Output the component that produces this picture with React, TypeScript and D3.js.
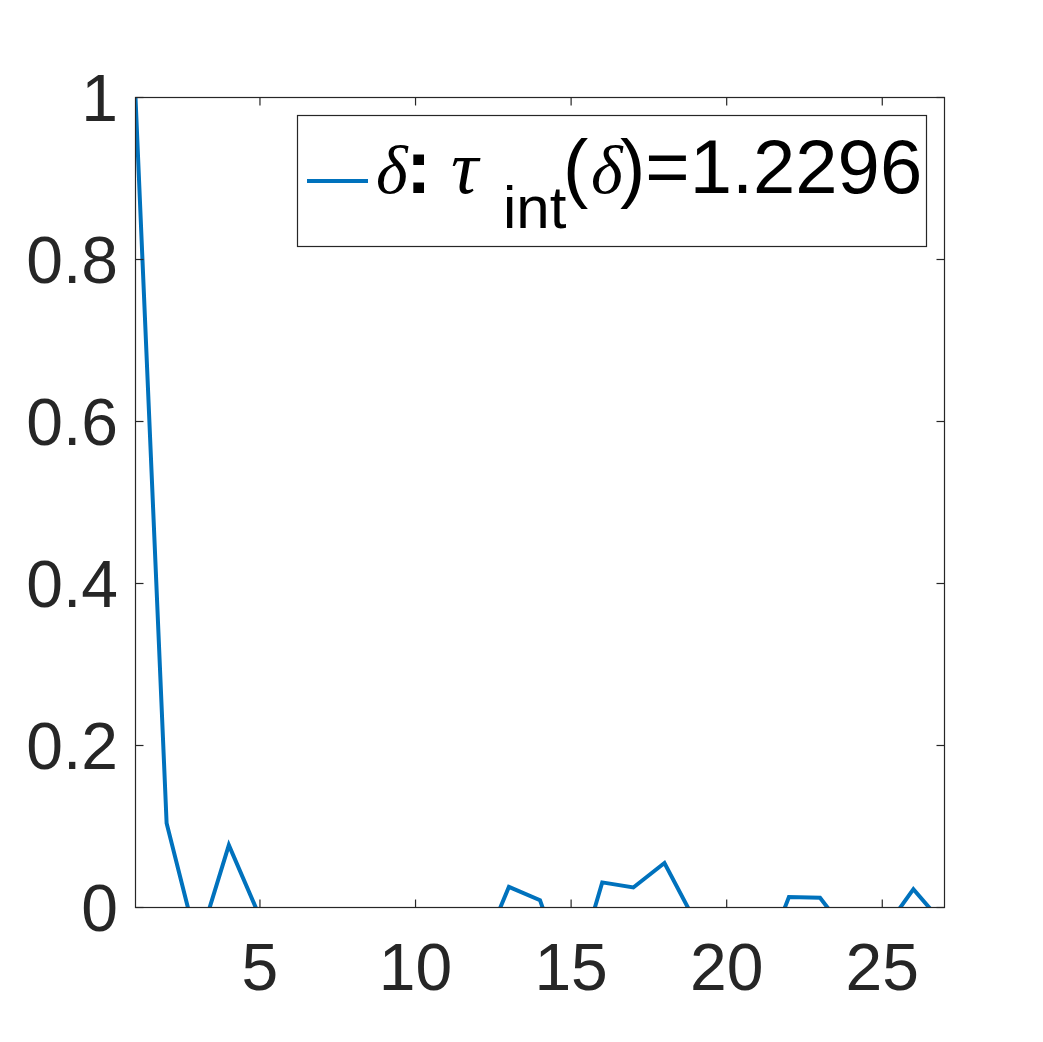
import React from "react";
import * as d3 from "d3";

const lags = [1,2,3,4,5,6,7,8,9,10,11,12,13,14,15,16,17,18,19,20,21,22,23,24,25,26,27];
const acf = [1,0.104,-0.048,0.077,-0.012,-0.035,-0.05,-0.025,-0.04,-0.06,-0.03,-0.067,0.0254,0.009,-0.1,0.031,0.0247,0.055,-0.018,-0.04,-0.087,0.013,0.012,-0.038,-0.031,0.0226,-0.022];
const xTicks = [5,10,15,20,25];
const yTicks = [0,0.2,0.4,0.6,0.8,1];
const yTickLabels = ["0","0.2","0.4","0.6","0.8","1"];
const legendValue = "1.2296";

export default function App() {
  const W = 1043, H = 1042;
  const left = 135.5, right = 944.5, top = 97.5, bottom = 907.5;
  const x = d3.scaleLinear().domain([1, 27]).range([left, right]);
  const y = d3.scaleLinear().domain([0, 1]).range([bottom, top]);
  const line = d3.line<number>().x((_, i) => x(lags[i])).y((d) => y(d));
  const axisColor = "#262626";
  const fs = 66;
  const tickLen = 8;
  const sans = "'Liberation Sans', Arial, Helvetica, sans-serif";
  const serif = "'Liberation Serif', 'Times New Roman', serif";
  const lfs = 76;
  const gfs = 68;
  const sfs = 60;
  const base = 192.5;
  return (
    <svg width={W} height={H} style={{ position: "absolute", left: 0, top: 0, background: "#fff" }}>
      <defs>
        <clipPath id="plotclip">
          <rect x={left} y={top} width={right - left} height={bottom - top} />
        </clipPath>
      </defs>
      <rect x={0} y={0} width={W} height={H} fill="#fff" />
      <path d={line(acf) || ""} fill="none" stroke="#0072BD" strokeWidth={4} strokeLinejoin="miter" clipPath="url(#plotclip)" />
      <rect x={left} y={top} width={right - left} height={bottom - top} fill="none" stroke={axisColor} strokeWidth={1.2} />
      {xTicks.map((t) => (
        <g key={"x" + t}>
          <line x1={x(t)} x2={x(t)} y1={bottom} y2={bottom - tickLen} stroke={axisColor} strokeWidth={1.2} />
          <line x1={x(t)} x2={x(t)} y1={top} y2={top + tickLen} stroke={axisColor} strokeWidth={1.2} />
          <text x={x(t)} y={990} textAnchor="middle" fontFamily={sans} fontSize={fs} fill={axisColor}>{t}</text>
        </g>
      ))}
      {yTicks.map((t, i) => (
        <g key={"y" + t}>
          <line x1={left} x2={left + tickLen} y1={y(t)} y2={y(t)} stroke={axisColor} strokeWidth={1.2} />
          <line x1={right} x2={right - tickLen} y1={y(t)} y2={y(t)} stroke={axisColor} strokeWidth={1.2} />
          <text x={118} y={y(t)} dy="0.36em" textAnchor="end" fontFamily={sans} fontSize={fs} fill={axisColor}>{yTickLabels[i]}</text>
        </g>
      ))}
      <g>
        <rect x={297.5} y={115.5} width={629} height={131} fill="#fff" stroke={axisColor} strokeWidth={1.2} />
        <line x1={307} x2={368} y1={181} y2={181} stroke="#0072BD" strokeWidth={4} />
        <text x={376} y={base} fontFamily={serif} fontStyle="italic" fontSize={gfs} fill="#000">δ</text>
        <text x={406} y={base} fontFamily={sans} fontWeight="bold" fontSize={lfs} fill="#000">:</text>
        <text x={451} y={base} fontFamily={serif} fontStyle="italic" fontSize={lfs} fill="#000">τ</text>
        <text x={503} y={228} fontFamily={sans} fontSize={sfs} fill="#000">int</text>
        <text x={563} y={base} fontFamily={sans} fontSize={lfs} fill="#000">(</text>
        <text x={591} y={base} fontFamily={serif} fontStyle="italic" fontSize={gfs} fill="#000">δ</text>
        <text x={620} y={base} fontFamily={sans} fontSize={lfs} fill="#000">{")=" + legendValue}</text>
      </g>
    </svg>
  );
}
